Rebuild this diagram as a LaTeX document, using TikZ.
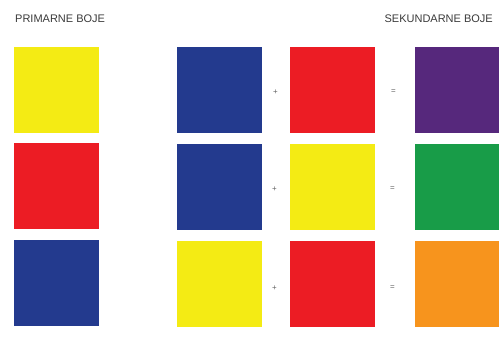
\documentclass[tikz,border=0pt]{standalone}
\usepackage{fontspec}
\setmainfont{Liberation Sans}
\definecolor{cyel}{HTML}{F4EB14}
\definecolor{cred}{HTML}{EC1C24}
\definecolor{cblu}{HTML}{233A8E}
\definecolor{cpur}{HTML}{56287C}
\definecolor{cgrn}{HTML}{189C48}
\definecolor{corg}{HTML}{F7941D}
\definecolor{ctxt}{HTML}{3A3A3A}
\begin{document}
\begin{tikzpicture}[x=1pt,y=-1pt,
  sq/.style={draw=none,inner sep=0pt,minimum width=85pt,minimum height=86pt,anchor=north west},
  lbl/.style={font=\fontsize{11}{12}\selectfont,text=ctxt,inner sep=0pt,anchor=west},
  op/.style={font=\fontsize{8}{9}\selectfont,text=ctxt!80,inner sep=0pt}]
\useasboundingbox (0,0) rectangle (499,343);
\node[lbl] (t1) at (15,19) {PRIMARNE BOJE};
\node[lbl,anchor=east] (t2) at (493,19) {SEKUNDARNE BOJE};
% primary column
\node[sq,fill=cyel] (p1) at (14,47) {};
\node[sq,fill=cred] (p2) at (14,143) {};
\node[sq,fill=cblu] (p3) at (14,240) {};
% row 1
\node[sq,fill=cblu] (a1) at (177,47) {};
\node[sq,fill=cred] (b1) at (290,47) {};
\node[sq,fill=cpur,minimum width=84pt] (c1) at (415,47) {};
% row 2
\node[sq,fill=cblu] (a2) at (177,144) {};
\node[sq,fill=cyel] (b2) at (290,144) {};
\node[sq,fill=cgrn,minimum width=84pt] (c2) at (415,144) {};
% row 3
\node[sq,fill=cyel] (a3) at (177,241) {};
\node[sq,fill=cred] (b3) at (290,241) {};
\node[sq,fill=corg,minimum width=84pt] (c3) at (415,241) {};
% operators
\node[op] (pl1) at (275.5,92) {+};
\node[op] (eq1) at (393.5,92) {=};
\node[op] (pl2) at (274.5,189) {+};
\node[op] (eq2) at (392.5,189) {=};
\node[op] (pl3) at (274.5,288) {+};
\node[op] (eq3) at (392.5,288) {=};
\end{tikzpicture}
\end{document}
